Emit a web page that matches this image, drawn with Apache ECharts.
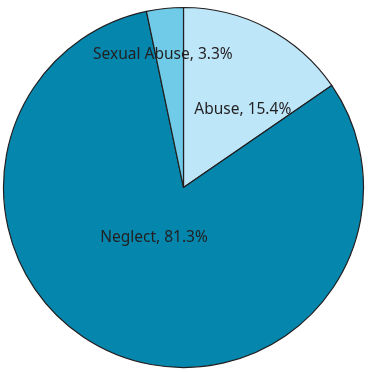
<!DOCTYPE html>
<html>
<head>
<meta charset="utf-8">
<script src="https://cdn.jsdelivr.net/npm/echarts@6/dist/echarts.min.js"></script>
<style>
  html, body { margin: 0; padding: 0; background: #ffffff; }
  #chart { width: 368px; height: 372px; }
</style>
</head>
<body>
<div id="chart"></div>
<script>
// Share of cases by maltreatment type (percent), clockwise from 12 o'clock
const categories = ['Abuse', 'Neglect', 'Sexual Abuse'];
const shares = [15.4, 81.3, 3.3];
const sliceColors = ['#bde6f9', '#0587ad', '#6fcbe7'];
// Nudges that move each label off its slice's mid-radius point
const labelShift = [[16, 4], [5, -36], [-11, -40]];

const chart = echarts.init(document.getElementById('chart'), null, { renderer: 'canvas' });

chart.setOption({
  animation: false,
  series: [{
    type: 'pie',
    center: [183.5, 187.5],
    radius: [0, 180],
    startAngle: 90,
    clockwise: true,
    avoidLabelOverlap: false,
    itemStyle: { borderColor: '#231f20', borderWidth: 1.2 },
    label: {
      show: true,
      position: 'inside',
      formatter: p => p.name + ', ' + p.value + '%',
      color: '#231f20',
      fontFamily: 'Noto Sans',
      fontSize: 15.5
    },
    labelLine: { show: false },
    emphasis: { disabled: true },
    labelLayout: p => ({ dx: labelShift[p.dataIndex][0], dy: labelShift[p.dataIndex][1] }),
    data: categories.map((name, i) => ({
      name: name,
      value: shares[i],
      itemStyle: { color: sliceColors[i] }
    }))
  }]
});
</script>
</body>
</html>
